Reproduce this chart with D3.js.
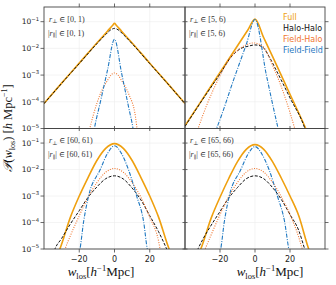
<!DOCTYPE html>
<html>
<head>
<meta charset="utf-8">
<script src="https://cdn.jsdelivr.net/npm/d3@7"></script>
<style>
  body { margin: 0; background: #fff; }
  svg { display: block; }
</style>
</head>
<body>
<svg id="chart" width="336" height="285"></svg>
<script>
// axis settings
const wDomain = [-40, 40];
const pDomain = [1e-5, Math.pow(10, -0.45)];
const xTicks = [-20, 0, 20];
const xTickLabels = ["\u221220", "0", "20"];
const yTicks = [1e-1, 1e-2, 1e-3, 1e-4, 1e-5];
const yTickExps = ["\u22121", "\u22122", "\u22123", "\u22124", "\u22125"];

// separation bins (r_perp and |r_par| are the same for each panel)
const cuts = ["[0, 1)", "[5, 6)", "[60, 61)", "[65, 66)"];
const seriesNames = ["Full", "Halo-Halo", "Field-Halo", "Field-Field"];

// panel [0,1) -- pairs of [w_los, P]
const fullA = [[-40,8.7e-5],[-30,5.0e-4],[-20,2.8e-3],[-10,1.6e-2],[-4,4.4e-2],[-1,7.4e-2],[0,8.7e-2],[1,7.4e-2],[4,4.4e-2],[10,1.6e-2],[20,2.8e-3],[30,5.0e-4],[40,8.7e-5]];
const haloA = [[-40,8.5e-5],[-30,4.9e-4],[-20,2.7e-3],[-10,1.5e-2],[-5,3.3e-2],[-2,5.0e-2],[0,5.6e-2],[2,5.0e-2],[5,3.3e-2],[10,1.5e-2],[20,2.7e-3],[30,4.9e-4],[40,8.5e-5]];
const fhA = [[-15,5e-6],[-14,1e-5],[-12,3.2e-5],[-8,2e-4],[-4,6.3e-4],[-2,1e-3],[0,1.2e-3],[2,1e-3],[4,6.3e-4],[8,2e-4],[12,2.5e-5],[12.8,1e-5],[14,5e-6]];
const ffA = [[-12,6e-6],[-11.4,1e-5],[-8,1e-4],[-4,1.5e-3],[0,2.2e-2],[4,1.2e-3],[8,6.3e-5],[10.5,1e-5],[11,6e-6]];

// panel [5,6)
const fullB = [[-40,1.26e-5],[-30,1.26e-4],[-20,1.26e-3],[-10,1.26e-2],[-4,5.0e-2],[0,0.125],[5,2.5e-2],[10,5.0e-3],[20,1.9e-4],[29,1e-5],[30,7e-6]];
const haloB = [[-40,1.2e-5],[-30,1.2e-4],[-20,1.1e-3],[-13.5,4.9e-3],[-8,1e-2],[-4,1.2e-2],[0,1.35e-2],[4,1.17e-2],[8,5e-3],[11.2,2e-3],[20,1.4e-4],[28.5,1e-5],[30,5e-6]];
const fhB = [[-34,5e-6],[-32.5,1e-5],[-23,3.7e-4],[-13.5,4.9e-3],[-6,1.26e-2],[-1,1.6e-2],[4,1.26e-2],[11.2,1.55e-3],[17,1.6e-4],[22.7,1e-5],[24,5e-6]];
const ffB = [[-23,7e-6],[-22,1e-5],[-11.6,8.7e-4],[-5,1.4e-2],[0,0.12],[6.5,1.0e-3],[13.2,1e-5],[14,6e-6]];

// panel [60,61)
const fullC = [[-32,7e-6],[-31,1e-5],[-25,1.6e-4],[-20,1e-3],[-15,5e-3],[-10,2.2e-2],[-5,6.3e-2],[0,9.5e-2],[5,6.3e-2],[10,2.2e-2],[15,5e-3],[20,1e-3],[25,1.6e-4],[31,1e-5],[32,7e-6]];
const haloC = [[-35,6e-6],[-33.8,1e-5],[-30,2.5e-5],[-25,8.9e-5],[-20,2.8e-4],[-15,8.9e-4],[-10,2.2e-3],[-5,4.5e-3],[0,5.8e-3],[5,4.4e-3],[10,2e-3],[15,7.1e-4],[20,1.8e-4],[25,4.5e-5],[29.6,1e-5],[31,6e-6]];
const fhC = [[-29,6e-6],[-28,1e-5],[-25,3.2e-5],[-20,1.8e-4],[-15,8.9e-4],[-10,3.2e-3],[-5,7.9e-3],[0,1.1e-2],[5,7.9e-3],[10,3.2e-3],[15,8.9e-4],[20,1.6e-4],[25,2e-5],[25.9,1e-5],[27,6e-6]];
const ffC = [[-20.5,6e-6],[-19.6,1e-5],[-17.6,1e-4],[-14.7,1e-3],[-8.1,1e-2],[-4,4e-2],[0,7.9e-2],[4,4e-2],[7.9,1e-2],[12.6,1e-3],[16.6,1e-4],[18.6,1e-5],[19.5,6e-6]];

// panel [65,66)
const fullD = [[-32,7e-6],[-31,1e-5],[-25,1.5e-4],[-20,9e-4],[-15,4.6e-3],[-10,2e-2],[-5,5.8e-2],[0,8.7e-2],[5,5.8e-2],[10,2e-2],[15,4.8e-3],[20,1e-3],[25,1.8e-4],[30.7,1e-5],[32,6e-6]];
const haloD = [[-34,6e-6],[-32.6,1e-5],[-30,2.2e-5],[-25,8e-5],[-20,2.6e-4],[-15,8.5e-4],[-10,2.1e-3],[-5,4.5e-3],[0,5.8e-3],[5,4.5e-3],[10,2.1e-3],[15,7.5e-4],[20,2e-4],[25,5e-5],[28.4,1e-5],[29.5,6e-6]];
const fhD = [[-29.5,7e-6],[-28.5,1e-5],[-25,3.5e-5],[-20,2e-4],[-15,9.5e-4],[-10,3.3e-3],[-5,8e-3],[0,1.1e-2],[5,8e-3],[10,3.3e-3],[15,9.5e-4],[20,2e-4],[25,2.8e-5],[27,1e-5],[28,6e-6]];
const ffD = [[-20.5,6e-6],[-19.6,1e-5],[-17.6,1e-4],[-14.7,1e-3],[-8.1,1e-2],[-4,3.8e-2],[0,7.4e-2],[4,3.8e-2],[8,1e-2],[12.8,1e-3],[17,1e-4],[19.3,1e-5],[20,6e-6]];

const panelData = [
  [fullA, haloA, fhA, ffA],
  [fullB, haloB, fhB, ffB],
  [fullC, haloC, fhC, ffC],
  [fullD, haloD, fhD, ffD]
];

// look of each series
const styles = [
  { color: "#EFA00F", width: 1.6, dash: null },
  { color: "#111111", width: 1.0, dash: "3,1.6" },
  { color: "#F0762E", width: 1.1, dash: "1,1.4" },
  { color: "#1f78c1", width: 1.1, dash: "4,1.4,1,1.4" }
];

const svg = d3.select("#chart");
const colX = [[44, 185], [185, 325]];
const rowY = [[7, 128.5], [128.5, 249]];
const frameColor = "#444";
const tickFont = "DejaVu Sans, sans-serif";
const mathFont = "Liberation Serif, DejaVu Serif, serif";

panelData.forEach((series, i) => {
  const col = i % 2, row = Math.floor(i / 2);
  const x = d3.scaleLinear().domain(wDomain).range(colX[col]);
  const y = d3.scaleLog().domain(pDomain).range([rowY[row][1], rowY[row][0]]);
  const g = svg.append("g");

  // grid
  g.selectAll(".gx").data(xTicks).enter().append("line")
    .attr("x1", d => x(d)).attr("x2", d => x(d))
    .attr("y1", y.range()[0]).attr("y2", y.range()[1])
    .attr("stroke", "#ececec").attr("stroke-width", 0.6);
  g.selectAll(".gy").data(yTicks).enter().append("line")
    .attr("x1", x.range()[0]).attr("x2", x.range()[1])
    .attr("y1", d => y(d)).attr("y2", d => y(d))
    .attr("stroke", "#ececec").attr("stroke-width", 0.6);

  // clip
  const cid = "clip" + i;
  g.append("clipPath").attr("id", cid).append("rect")
    .attr("x", x.range()[0]).attr("y", y.range()[1])
    .attr("width", x.range()[1] - x.range()[0])
    .attr("height", y.range()[0] - y.range()[1]);

  const line = d3.line()
    .x(d => x(d[0]))
    .y(d => y(d[1]))
    .curve(d3.curveMonotoneX);

  series.forEach((s, k) => {
    g.append("path")
      .attr("clip-path", `url(#${cid})`)
      .attr("d", line(s))
      .attr("fill", "none")
      .attr("stroke", styles[k].color)
      .attr("stroke-width", styles[k].width)
      .attr("stroke-dasharray", styles[k].dash);
  });

  // ticks: outer sides outward, inner sides inward
  const tk = 3.5;
  xTicks.forEach(t => {
    if (row === 0) {
      g.append("line").attr("x1", x(t)).attr("x2", x(t))
        .attr("y1", y.range()[1]).attr("y2", y.range()[1] - tk)
        .attr("stroke", frameColor).attr("stroke-width", 0.8);
      g.append("line").attr("x1", x(t)).attr("x2", x(t))
        .attr("y1", y.range()[0]).attr("y2", y.range()[0] - 2.5)
        .attr("stroke", frameColor).attr("stroke-width", 0.8);
    } else {
      g.append("line").attr("x1", x(t)).attr("x2", x(t))
        .attr("y1", y.range()[0]).attr("y2", y.range()[0] + tk)
        .attr("stroke", frameColor).attr("stroke-width", 0.8);
      g.append("line").attr("x1", x(t)).attr("x2", x(t))
        .attr("y1", y.range()[1]).attr("y2", y.range()[1] + 2.5)
        .attr("stroke", frameColor).attr("stroke-width", 0.8);
    }
  });
  yTicks.forEach(t => {
    if (col === 0) {
      g.append("line").attr("x1", x.range()[0]).attr("x2", x.range()[0] - tk)
        .attr("y1", y(t)).attr("y2", y(t))
        .attr("stroke", frameColor).attr("stroke-width", 0.8);
      g.append("line").attr("x1", x.range()[1]).attr("x2", x.range()[1] - 2.5)
        .attr("y1", y(t)).attr("y2", y(t))
        .attr("stroke", frameColor).attr("stroke-width", 0.8);
    } else {
      g.append("line").attr("x1", x.range()[1]).attr("x2", x.range()[1] + tk)
        .attr("y1", y(t)).attr("y2", y(t))
        .attr("stroke", frameColor).attr("stroke-width", 0.8);
      g.append("line").attr("x1", x.range()[0]).attr("x2", x.range()[0] + 2.5)
        .attr("y1", y(t)).attr("y2", y(t))
        .attr("stroke", frameColor).attr("stroke-width", 0.8);
    }
  });

  // y tick labels (left column only)
  if (col === 0) {
    yTicks.forEach((t, j) => {
      const txt = g.append("text")
        .attr("x", x.range()[0] - 5).attr("y", y(t) + 2.8)
        .attr("text-anchor", "end")
        .attr("font-family", tickFont).attr("font-size", 7.5).attr("fill", "#222");
      txt.append("tspan").text("10");
      txt.append("tspan").attr("dy", -3.5).attr("font-size", 5.3).text(yTickExps[j]);
    });
  }
  // x tick labels and axis title (bottom row only)
  if (row === 1) {
    xTicks.forEach((t, j) => {
      g.append("text")
        .attr("x", x(t)).attr("y", y.range()[0] + 12.5)
        .attr("text-anchor", "middle")
        .attr("font-family", tickFont).attr("font-size", 8).attr("fill", "#222")
        .text(xTickLabels[j]);
    });
    const lab = g.append("text")
      .attr("x", col === 0 ? 101 : 270).attr("y", 276)
      .attr("text-anchor", "middle")
      .attr("font-family", mathFont).attr("font-size", 13).attr("fill", "#111");
    lab.append("tspan").attr("font-style", "italic").text("w");
    lab.append("tspan").attr("font-size", 8.5).attr("dy", 2.5).text("los");
    lab.append("tspan").attr("dy", -2.5).text("[");
    lab.append("tspan").attr("font-style", "italic").text("h");
    lab.append("tspan").attr("font-size", 8.5).attr("dy", -5).text("\u22121");
    lab.append("tspan").attr("dy", 5).text("Mpc]");
  }

  // frame
  g.append("rect")
    .attr("x", x.range()[0]).attr("y", y.range()[1])
    .attr("width", x.range()[1] - x.range()[0])
    .attr("height", y.range()[0] - y.range()[1])
    .attr("fill", "none").attr("stroke", frameColor).attr("stroke-width", 0.9);

  // bin annotation
  const ax = x.range()[0] + 5, ay = y.range()[1];
  const t1 = g.append("text").attr("x", ax).attr("y", ay + 14.5)
    .attr("font-family", mathFont).attr("font-size", 8).attr("fill", "#333");
  t1.append("tspan").attr("font-style", "italic").text("r");
  t1.append("tspan").attr("font-size", 5.5).attr("dy", 1.5).text("\u22a5");
  t1.append("tspan").attr("dy", -1.5).text(" \u2208 " + cuts[i]);
  const t2 = g.append("text").attr("x", ax - 1).attr("y", ay + 28.5)
    .attr("font-family", mathFont).attr("font-size", 8).attr("fill", "#333");
  t2.append("tspan").text("|");
  t2.append("tspan").attr("font-style", "italic").text("r");
  t2.append("tspan").attr("font-size", 5.5).attr("dy", 1.5).text("\u2225");
  t2.append("tspan").attr("dy", -1.5).text("| \u2208 " + cuts[i]);
});

// legend
seriesNames.forEach((name, k) => {
  svg.append("text")
    .attr("x", 283).attr("y", 19.5 + k * 11.2)
    .attr("font-family", tickFont).attr("font-size", 8)
    .attr("fill", styles[k].color)
    .text(name);
});

// y label
const yl = svg.append("text")
  .attr("transform", "translate(12,128) rotate(-90)")
  .attr("text-anchor", "middle")
  .attr("font-family", mathFont).attr("font-size", 12.5).attr("fill", "#111");
yl.append("tspan").attr("font-style", "italic").text("\ud835\udcab");
yl.append("tspan").text("(");
yl.append("tspan").attr("font-style", "italic").text("w");
yl.append("tspan").attr("font-size", 8).attr("dy", 2.5).text("los");
yl.append("tspan").attr("dy", -2.5).text(") [");
yl.append("tspan").attr("font-style", "italic").text("h");
yl.append("tspan").text(" Mpc");
yl.append("tspan").attr("font-size", 8).attr("dy", -5).text("\u22121");
yl.append("tspan").attr("dy", 5).text("]");
</script>
</body>
</html>
